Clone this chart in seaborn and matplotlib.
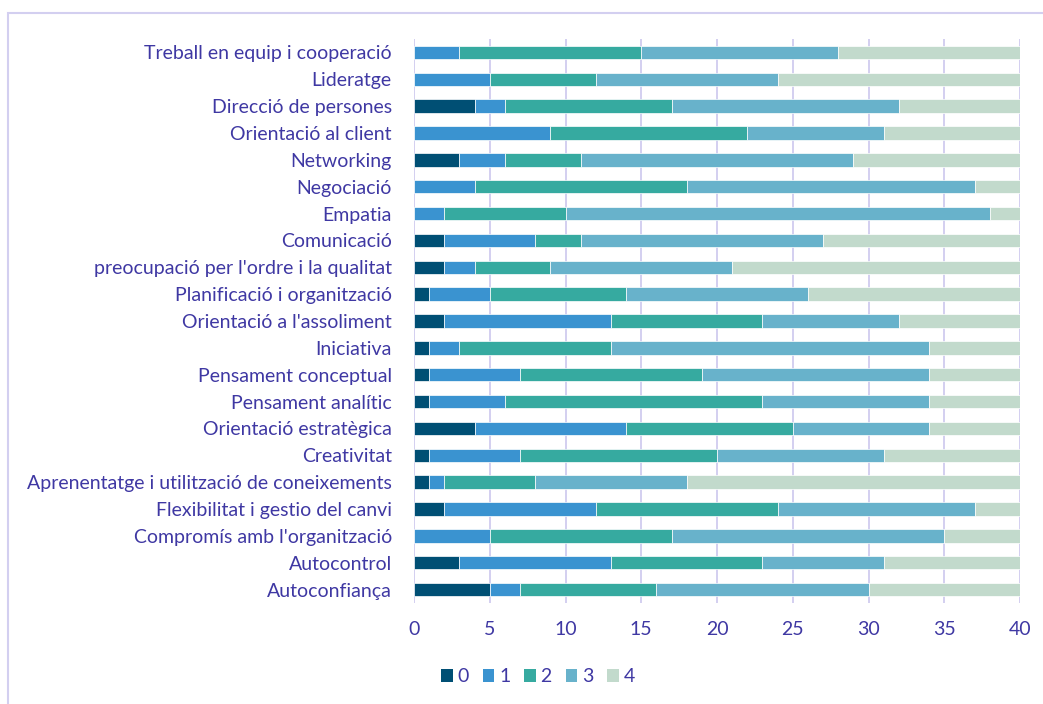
import matplotlib
matplotlib.use("Agg")

import matplotlib.pyplot as plt
import numpy as np
import pandas as pd
import seaborn as sns
from matplotlib.patches import Patch, Rectangle

categories = [
    "Treball en equip i cooperació",
    "Lideratge",
    "Direcció de persones",
    "Orientació al client",
    "Networking",
    "Negociació",
    "Empatia",
    "Comunicació",
    "preocupació per l'ordre i la qualitat",
    "Planificació i organització",
    "Orientació a l'assoliment",
    "Iniciativa",
    "Pensament conceptual",
    "Pensament analític",
    "Orientació estratègica",
    "Creativitat",
    "Aprenentatge i utilització de coneixements",
    "Flexibilitat i gestio del canvi",
    "Compromís amb l'organització",
    "Autocontrol",
    "Autoconfiança",
]

score_0 = [0, 0, 4, 0, 3, 0, 0, 2, 2, 1, 2, 1, 1, 1, 4, 1, 1, 2, 0, 3, 5]
score_1 = [3, 5, 2, 9, 3, 4, 2, 6, 2, 4, 11, 2, 6, 5, 10, 6, 1, 10, 5, 10, 2]
score_2 = [12, 7, 11, 13, 5, 14, 8, 3, 5, 9, 10, 10, 12, 17, 11, 13, 6, 12, 12, 10, 9]
score_3 = [13, 12, 15, 9, 18, 19, 28, 16, 12, 12, 9, 21, 15, 11, 9, 11, 10, 13, 18, 8, 14]
score_4 = [12, 16, 8, 9, 11, 3, 2, 13, 19, 14, 8, 6, 6, 6, 6, 9, 22, 3, 5, 9, 10]

series_labels = ["0", "1", "2", "3", "4"]
series_colors = ["#004f74", "#3a93d0", "#36aaa0", "#68b2cb", "#c2dacc"]

TEXT = "#3f38a3"
GRID = "#d3cff0"

sns.set_theme(style="white")
plt.rcParams["font.family"] = ["Lato", "DejaVu Sans"]

df = pd.DataFrame({
    "categoria": categories,
    "0": score_0, "1": score_1, "2": score_2, "3": score_3, "4": score_4,
})

fig = plt.figure(figsize=(10.43, 7.04), dpi=100)
ax = fig.add_axes([414 / 1043, 1 - 603 / 704, (1020 - 414) / 1043, (603 - 39) / 704])

left = np.zeros(len(categories))
for lab, col in zip(series_labels, series_colors):
    sns.barplot(
        data=df, x=lab, y="categoria", order=categories,
        left=left, color=col, orient="h", width=0.5,
        edgecolor="white", linewidth=0.5, saturation=1, ax=ax,
    )
    left = left + df[lab].to_numpy()

ax.set_xlim(0, 40)
ax.set_ylim(len(categories) - 0.5, -0.5)
ax.set_xticks(np.arange(0, 41, 5))
ax.xaxis.grid(True, color=GRID, linewidth=1.4)
ax.set_axisbelow(True)
for s in ax.spines.values():
    s.set_visible(False)
ax.set_xlabel("")
ax.set_ylabel("")
ax.tick_params(axis="x", length=0, pad=13, labelsize=14, labelcolor=TEXT)
ax.tick_params(axis="y", length=0, pad=16, labelsize=14, labelcolor=TEXT)

handles = [Patch(facecolor=c, edgecolor="none") for c in series_colors]
fig.legend(
    handles, series_labels, loc="center", bbox_to_anchor=(538 / 1043, 1 - 677 / 704),
    ncol=5, frameon=False, fontsize=14, labelcolor=TEXT,
    handlelength=0.6, handleheight=0.6, handletextpad=0.25, columnspacing=0.7,
)

fig.patches.append(Rectangle(
    (8 / 1043, -0.05), 1.1, 1.05 - 13 / 704, transform=fig.transFigure,
    fill=False, edgecolor=GRID, linewidth=1.5,
))

fig.savefig("out.png", dpi=100)
plt.close(fig)
